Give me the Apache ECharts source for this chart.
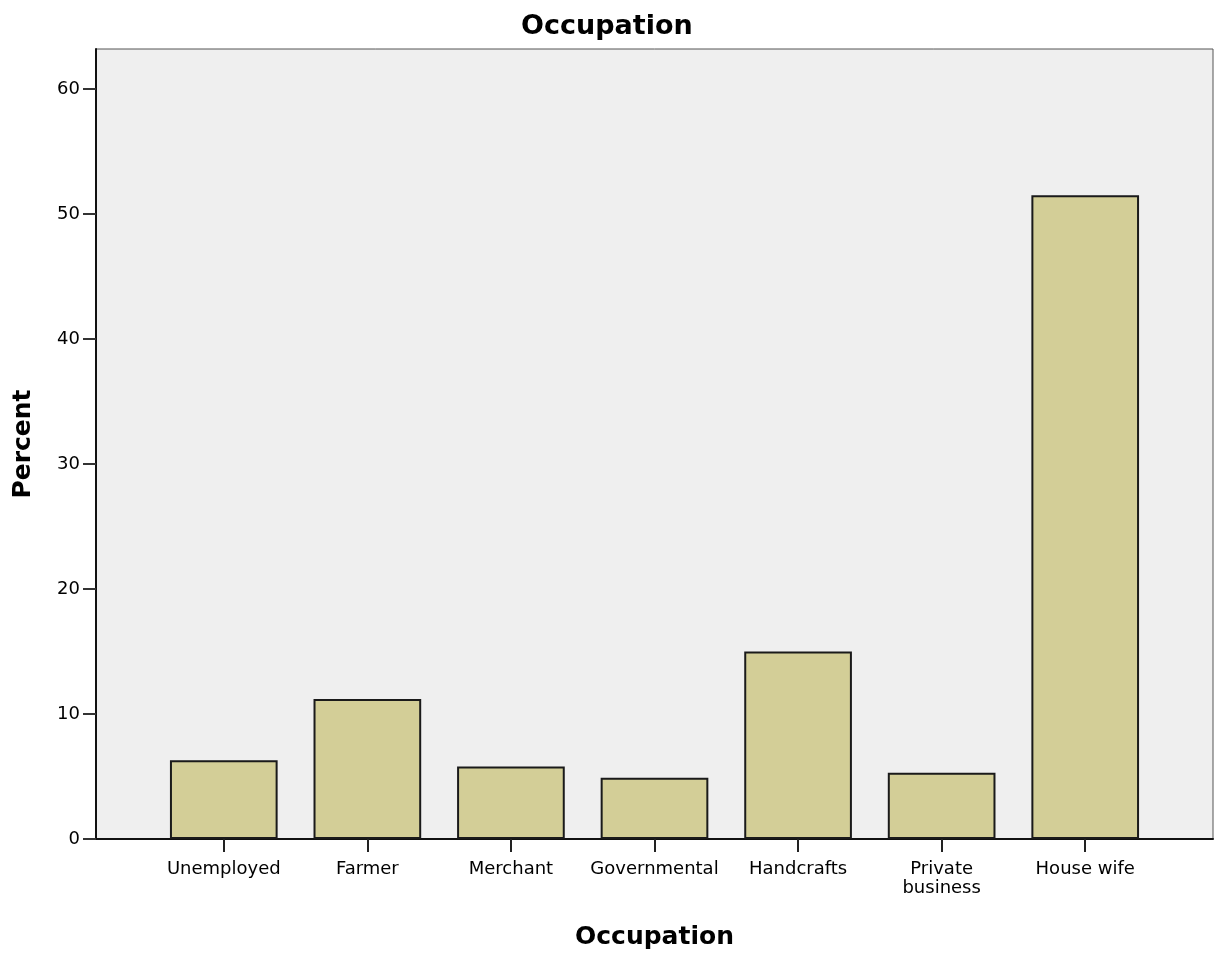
<!DOCTYPE html>
<html>
<head>
<meta charset="utf-8">
<script src="https://cdn.jsdelivr.net/npm/echarts@6/dist/echarts.min.js"></script>
<style>
  html, body { margin: 0; padding: 0; background: #fff; }
  #chart { width: 1217px; height: 961px; }
</style>
</head>
<body>
<div id="chart"></div>
<script>
// Occupation bar chart (percent)
const occupations = ["Unemployed", "Farmer", "Merchant", "Governmental", "Handcrafts", "Private\nbusiness", "House wife"];
const percents = [6.3, 11.2, 5.8, 4.9, 15.0, 5.3, 51.5];
const yTicks = [0, 10, 20, 30, 40, 50, 60];
const yMax = 63.2;

const font = "DejaVu Sans";

const chart = echarts.init(document.getElementById("chart"));
chart.setOption({
  animation: false,
  backgroundColor: "#ffffff",
  title: {
    text: "Occupation",
    left: 516,
    top: 8,
    textStyle: { fontFamily: font, fontSize: 27, fontWeight: "bold", color: "#000" }
  },
  grid: [
    // background box
    { left: 96, right: 4, top: 49, bottom: 122, show: true, backgroundColor: "#efefef", borderColor: "#555", borderWidth: 1 },
    // bars sit inside, padded on both sides
    { left: 152, right: 60, top: 49, bottom: 122 }
  ],
  xAxis: [
    {
      gridIndex: 0,
      type: "value",
      min: 0,
      max: 1,
      axisLine: { show: true, lineStyle: { color: "#111", width: 2 } },
      axisTick: { show: false },
      axisLabel: { show: false },
      splitLine: { show: false },
      name: "Occupation",
      nameLocation: "middle",
      nameGap: 86,
      nameTextStyle: { fontFamily: font, fontSize: 25, fontWeight: "bold", color: "#000" }
    },
    {
      gridIndex: 1,
      type: "category",
      data: occupations,
      axisLine: { show: false },
      axisTick: { show: true, alignWithLabel: true, length: 13, lineStyle: { color: "#222", width: 2 } },
      axisLabel: { margin: 21, fontFamily: font, fontSize: 18, color: "#000", lineHeight: 19, interval: 0 }
    }
  ],
  yAxis: [
    {
      gridIndex: 0,
      type: "value",
      min: 0,
      max: yMax,
      interval: 10,
      axisLine: { show: true, lineStyle: { color: "#111", width: 2 } },
      axisTick: { show: true, length: 13, customValues: yTicks, lineStyle: { color: "#333", width: 2 } },
      axisLabel: { margin: 16, customValues: yTicks, fontFamily: font, fontSize: 18, color: "#000" },
      splitLine: { show: false },
      name: "Percent",
      nameLocation: "middle",
      nameGap: 60,
      nameTextStyle: { fontFamily: font, fontSize: 25, fontWeight: "bold", color: "#000" }
    },
    {
      gridIndex: 1,
      type: "value",
      min: 0,
      max: yMax,
      show: false
    }
  ],
  series: [
    {
      type: "bar",
      xAxisIndex: 1,
      yAxisIndex: 1,
      data: percents,
      barWidth: "75%",
      itemStyle: { color: "#d3ce97", borderColor: "#1a1a1a", borderWidth: 2 }
    }
  ]
});
</script>
</body>
</html>
